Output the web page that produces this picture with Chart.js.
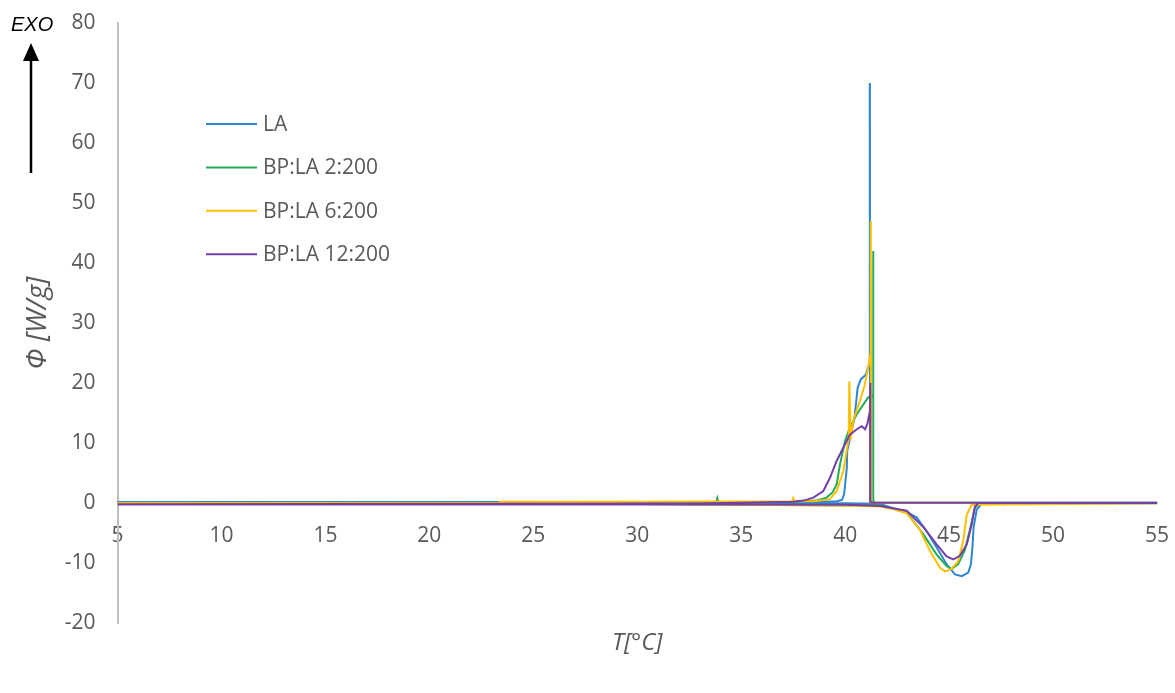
<!DOCTYPE html>
<html lang="en">
<head>
    <meta charset="UTF-8">
    <title>DSC</title>
    <script src="https://cdn.jsdelivr.net/npm/chart.js"></script>
    <style>
        body { margin: 0; background: #fff; }
        #wrap { position: relative; width: 1175px; height: 693px; }
    </style>
</head>
<body>
    <div id="wrap">
        <canvas id="dscChart"></canvas>
    </div>

    <script>
        // heating run (5 -> 55) followed by the cooling run (55 -> 5) for each sample
        const seriesNames = ['LA', 'BP:LA 2:200', 'BP:LA 6:200', 'BP:LA 12:200'];

        const laTemp = [5, 20, 35, 40, 41.5, 41.8, 42.4, 43.0, 43.44, 43.92, 44.4, 44.88, 45.28, 45.61, 45.92, 46.05, 46.12, 46.18, 46.33, 46.57, 55,
            55, 41.25, 41.2, 41.19, 41.185, 41.1, 41.0, 40.75, 40.6, 40.45, 40.3, 40.2, 40.1, 40.08, 40.0, 39.95, 39.85, 39.6, 38.5, 35, 24, 5];
        const laPhi = [0.1, 0.1, 0.05, -0.1, -0.2, -0.3, -1, -1.6, -2.4, -4.7, -7.4, -10.2, -11.9, -12.2, -11.6, -10.2, -7.5, -4, -1.1, -0.1, -0.05,
            0, 0, 0.2, 70, 23, 22.6, 21.4, 20.6, 19.2, 14.2, 12, 10.3, 8.7, 5.9, 3.1, 1.5, 0.5, 0.3, 0.2, 0.15, 0.15, 0.15];

        const bp2Temp = [5, 24, 35, 40, 41.5, 42.2, 42.96, 43.76, 44.4, 44.88, 45.12, 45.44, 45.76, 46.0, 46.24, 46.48, 55,
            55, 41.4, 41.37, 41.355, 41.35, 41.11, 40.87, 40.56, 40.23, 39.99, 39.75, 39.59, 39.4, 39.11, 38.6, 37.5, 33.9, 33.85, 33.8, 24, 5];
        const bp2Phi = [0, 0, -0.3, -0.4, -0.3, -0.8, -1.6, -5.2, -8.6, -10.5, -11, -10.2, -7.8, -4.5, -0.8, 0, 0,
            0.05, 0.05, 0.3, 42, 18, 17.6, 16.4, 14.8, 12.6, 10.3, 6.4, 3.1, 1.8, 0.9, 0.4, 0.2, 0.15, 0.8, 0.15, 0.1, 0.05];

        const bp6Temp = [5, 24, 35, 40, 41.68, 42.3, 42.96, 43.6, 44.08, 44.56, 44.8, 45.12, 45.44, 45.68, 45.85, 46.09, 55,
            55, 41.28, 41.25, 41.235, 41.23, 41.11, 40.95, 40.71, 40.39, 40.27, 40.2, 40.17, 40.07, 39.91, 39.59, 39.26, 38.5, 37.55, 37.5, 37.45, 30, 23.4, 23.3, 5];
        const bp6Phi = [0, 0, -0.3, -0.4, -0.6, -1, -1.7, -4.5, -8, -10.8, -11.4, -11, -9.7, -6.3, -1.9, -0.3, -0.05,
            0, 0, 0.3, 47, 25, 22.6, 19.8, 17, 13.7, 10.6, 20.3, 10.9, 8.7, 5.3, 2, 0.6, 0.3, 0.3, 0.8, 0.3, 0.2, 0.2, 0, 0];

        const bp12Temp = [5, 24, 35, 40, 41.7, 42.96, 43.76, 44.4, 44.88, 45.2, 45.52, 45.85, 46.09, 46.24, 46.4, 55,
            55, 41.25, 41.22, 41.21, 41.19, 41.07, 40.96, 40.8, 40.56, 40.23, 39.91, 39.59, 39.27, 38.95, 38.47, 38.0, 37.5, 33, 5];
        const bp12Phi = [-0.25, -0.25, -0.25, -0.3, -0.5, -1.3, -4, -6.9, -8.9, -9.4, -8.8, -6.9, -3.5, -0.6, 0, 0,
            0.05, 0.05, 0.3, 20, 15.3, 13.2, 12.3, 12.8, 12.3, 11.4, 9.2, 7, 4.2, 2, 0.9, 0.4, 0.2, -0.1, -0.2];

        const seriesColors = ['#2F86D4', '#22AB58', '#FFC000', '#7440A8'];

        const xMin = 5, xMax = 55, xStep = 5;
        const yMin = -20, yMax = 80, yStep = 10;

        function toPoints(temps, phis) {
            return temps.map((t, i) => ({ x: t, y: phis[i] }));
        }

        const allSeries = [
            toPoints(laTemp, laPhi),
            toPoints(bp2Temp, bp2Phi),
            toPoints(bp6Temp, bp6Phi),
            toPoints(bp12Temp, bp12Phi)
        ];

        const tickColor = '#595959';
        const axisGray = '#BFBFBF';

        // let layout.padding alone decide the plot edges
        function noScalePadding(scale) {
            scale.paddingTop = 0;
            scale.paddingBottom = 0;
            scale.paddingLeft = 0;
            scale.paddingRight = 0;
        }

        // legend, x title and the EXO arrow are drawn by hand
        const extrasPlugin = {
            id: 'extras',
            afterDraw(chart) {
                const ctx = chart.ctx;
                ctx.save();

                // legend
                chart.data.datasets.forEach((ds, i) => {
                    const y = 124 + i * 43.4;
                    ctx.strokeStyle = ds.borderColor;
                    ctx.lineWidth = 2;
                    ctx.beginPath();
                    ctx.moveTo(206, y);
                    ctx.lineTo(257, y);
                    ctx.stroke();
                    ctx.fillStyle = tickColor;
                    ctx.font = '21px "Open Sans"';
                    ctx.textBaseline = 'middle';
                    ctx.textAlign = 'left';
                    ctx.fillText(ds.label, 263, y + 1);
                });

                // x axis title
                ctx.fillStyle = tickColor;
                ctx.font = 'italic 24px "Open Sans"';
                ctx.textAlign = 'center';
                ctx.textBaseline = 'middle';
                ctx.fillText('T[°C]', chart.chartArea.left + chart.chartArea.width / 2, 643);

                // EXO arrow
                ctx.fillStyle = '#000';
                ctx.font = 'italic 20px "Liberation Sans"';
                ctx.textAlign = 'left';
                ctx.fillText('EXO', 11, 25);
                ctx.strokeStyle = '#000';
                ctx.lineWidth = 2.5;
                ctx.beginPath();
                ctx.moveTo(31, 173);
                ctx.lineTo(31, 58);
                ctx.stroke();
                ctx.beginPath();
                ctx.moveTo(31, 43);
                ctx.lineTo(23, 61);
                ctx.lineTo(39, 61);
                ctx.closePath();
                ctx.fill();

                ctx.restore();
            }
        };

        const drawOrder = [3, 2, 1, 0];

        new Chart(document.getElementById('dscChart'), {
            type: 'line',
            data: {
                datasets: seriesNames.map((name, i) => ({
                    label: name,
                    data: allSeries[i],
                    borderColor: seriesColors[i],
                    backgroundColor: seriesColors[i],
                    borderWidth: 2,
                    pointRadius: 0,
                    tension: 0,
                    fill: false,
                    order: drawOrder[i]
                }))
            },
            options: {
                responsive: true,
                maintainAspectRatio: false,
                animation: false,
                layout: {
                    padding: { top: 23, right: 18, bottom: 70, left: 0 }
                },
                plugins: {
                    legend: { display: false },
                    tooltip: { enabled: false }
                },
                scales: {
                    x: {
                        type: 'linear',
                        position: { y: 0 },
                        min: xMin,
                        max: xMax,
                        afterFit: noScalePadding,
                        grid: { display: false, drawTicks: false },
                        border: { display: true, color: axisGray, width: 1.5 },
                        ticks: {
                            stepSize: xStep,
                            padding: 20,
                            color: tickColor,
                            font: { family: 'Open Sans', size: 21 },
                            maxRotation: 0
                        }
                    },
                    y: {
                        type: 'linear',
                        min: yMin,
                        max: yMax,
                        afterFit: (scale) => {
                            scale.width = 117.5;
                            noScalePadding(scale);
                        },
                        grid: { display: false, drawTicks: false },
                        border: { display: true, color: axisGray, width: 2 },
                        ticks: {
                            stepSize: yStep,
                            padding: 22,
                            color: tickColor,
                            font: { family: 'Open Sans', size: 21 }
                        },
                        title: {
                            display: true,
                            text: 'Φ [W/g]',
                            color: tickColor,
                            font: { family: 'Open Sans', size: 28, style: 'italic' },
                            padding: { top: 21, bottom: 0 }
                        }
                    }
                }
            },
            plugins: [extrasPlugin]
        });
    </script>
</body>
</html>
